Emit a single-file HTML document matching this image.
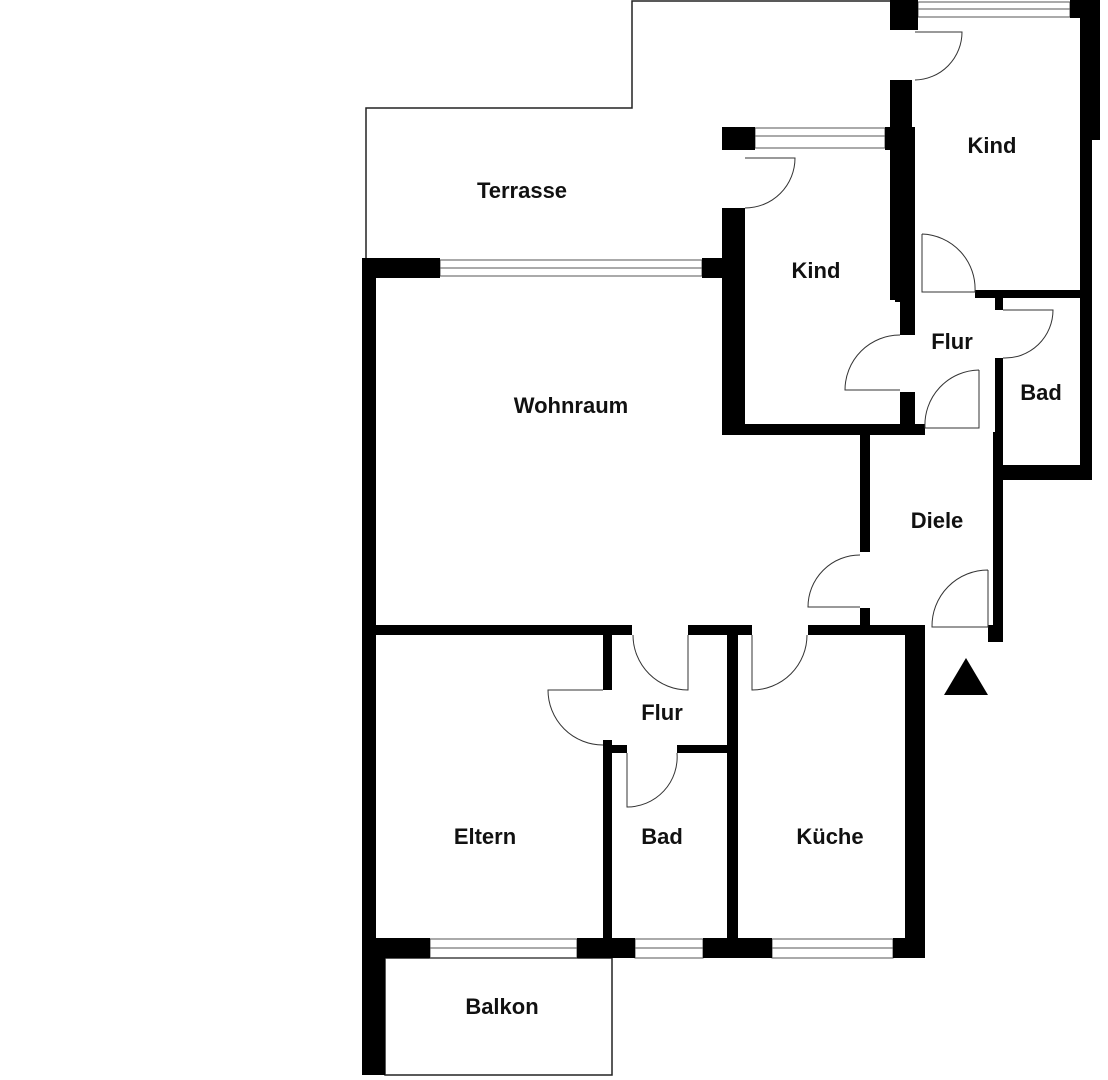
<!DOCTYPE html>
<html><head><meta charset="utf-8"><style>
html,body{margin:0;padding:0;background:#fff;width:1108px;height:1080px;overflow:hidden}
text{font-family:"Liberation Sans",sans-serif;font-weight:bold;font-size:22px;fill:#111;text-anchor:middle;dominant-baseline:middle}
</style></head><body>
<svg width="1108" height="1080" viewBox="0 0 1108 1080" xmlns="http://www.w3.org/2000/svg">
<g fill="none" stroke="#222" stroke-width="1.5">
<polyline points="366,258 366,108 632,108 632,1 890,1"/>
<rect x="385" y="958" width="227" height="117"/>
</g>
<g fill="none" stroke="#555" stroke-width="1">
<rect x="440" y="260" width="262" height="16"/><line x1="440" y1="268" x2="702" y2="268"/>
<rect x="755" y="128" width="130" height="20"/><line x1="755" y1="136" x2="885" y2="136"/>
<rect x="918" y="2" width="152" height="15"/><line x1="918" y1="9" x2="1070" y2="9"/>
<rect x="430" y="939" width="147" height="19"/><line x1="430" y1="948" x2="577" y2="948"/>
<rect x="635" y="939" width="68" height="19"/><line x1="635" y1="948" x2="703" y2="948"/>
<rect x="772" y="939" width="121" height="19"/><line x1="772" y1="948" x2="893" y2="948"/>
</g>
<g fill="#000">
<rect x="362" y="258" width="78" height="20"/>
<rect x="702" y="258" width="26" height="20"/>
<rect x="362" y="258" width="14" height="702"/>
<rect x="362" y="958" width="23" height="117"/>
<rect x="722" y="127" width="33" height="23"/>
<rect x="885" y="127" width="12" height="23"/>
<rect x="722" y="208" width="23" height="227"/>
<rect x="727" y="424" width="198" height="11"/>
<rect x="895" y="127" width="20" height="175"/>
<rect x="900" y="300" width="15" height="35"/>
<rect x="900" y="392" width="15" height="40"/>
<rect x="890" y="0" width="28" height="30"/>
<rect x="890" y="80" width="22" height="220"/>
<rect x="1070" y="0" width="30" height="18"/>
<rect x="1080" y="0" width="12" height="480"/>
<rect x="1092" y="0" width="8" height="140"/>
<rect x="975" y="290" width="115" height="8"/>
<rect x="995" y="298" width="8" height="12"/>
<rect x="995" y="358" width="8" height="122"/>
<rect x="995" y="465" width="97" height="15"/>
<rect x="860" y="432" width="10" height="120"/>
<rect x="860" y="608" width="10" height="20"/>
<rect x="993" y="432" width="10" height="210"/>
<rect x="988" y="625" width="15" height="17"/>
<rect x="362" y="625" width="270" height="10"/>
<rect x="688" y="625" width="64" height="10"/>
<rect x="808" y="625" width="117" height="10"/>
<rect x="603" y="632" width="9" height="58"/>
<rect x="603" y="740" width="9" height="218"/>
<rect x="603" y="745" width="24" height="8"/>
<rect x="677" y="745" width="51" height="8"/>
<rect x="727" y="632" width="11" height="320"/>
<rect x="905" y="632" width="20" height="326"/>
<rect x="362" y="938" width="68" height="20"/>
<rect x="577" y="938" width="58" height="20"/>
<rect x="703" y="938" width="69" height="20"/>
<rect x="893" y="938" width="32" height="20"/>
<polygon points="944,695 988,695 966,658"/>
</g>
<g fill="none" stroke="#333" stroke-width="1">
<path d="M745,158 H795 A50,50 0 0 1 745,208"/>
<path d="M915,32 H962 A48,48 0 0 1 915,80"/>
<path d="M922,234 V292 H975 A55,55 0 0 0 922,234"/>
<path d="M900,335 A55,55 0 0 0 845,390 H900"/>
<path d="M1003,310 H1053 A48,48 0 0 1 1003,358"/>
<path d="M979,370 V428 H925 A55,55 0 0 1 979,370"/>
<path d="M860,555 A52,52 0 0 0 808,607 H860"/>
<path d="M988,570 V627 H932 A56,56 0 0 1 988,570"/>
<path d="M688,635 V690 A55,55 0 0 1 633,635"/>
<path d="M752,635 V690 A55,55 0 0 0 807,635"/>
<path d="M603,690 H548 A55,55 0 0 0 603,745"/>
<path d="M627,753 V807 A50,50 0 0 0 677,753"/>
</g>
<text x="522" y="192">Terrasse</text>
<text x="992" y="147">Kind</text>
<text x="816" y="272">Kind</text>
<text x="952" y="343">Flur</text>
<text x="1041" y="394">Bad</text>
<text x="571" y="407">Wohnraum</text>
<text x="937" y="522">Diele</text>
<text x="662" y="714">Flur</text>
<text x="485" y="838">Eltern</text>
<text x="662" y="838">Bad</text>
<text x="830" y="838">Küche</text>
<text x="502" y="1008">Balkon</text>
</svg>
</body></html>
